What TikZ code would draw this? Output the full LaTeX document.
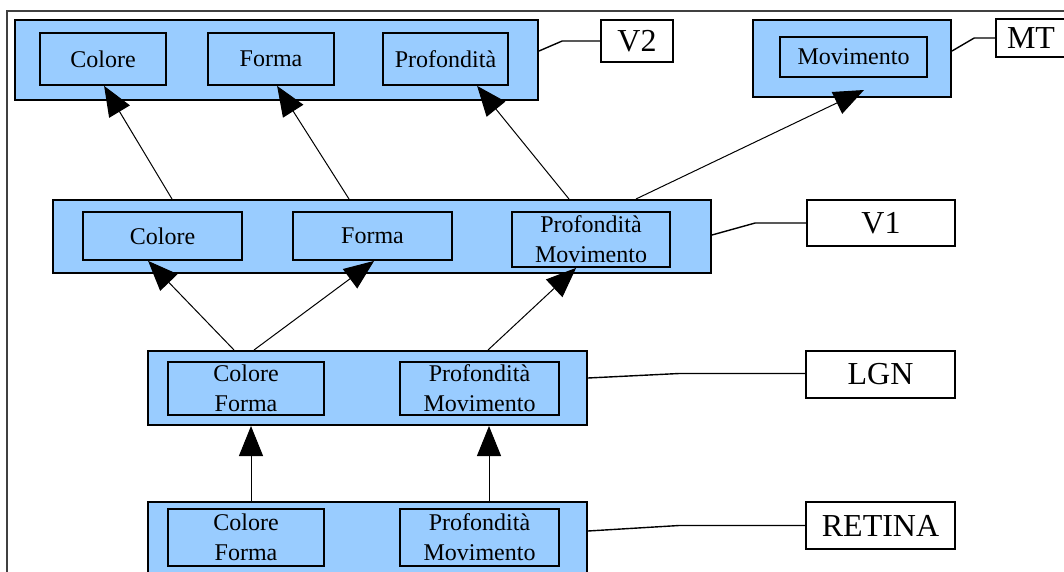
\documentclass[tikz,border=0pt]{standalone}
\usepackage{fontspec}
\setmainfont{Liberation Serif}
\usetikzlibrary{calc,arrows.meta}
\definecolor{boxblue}{HTML}{99CCFF}
\newcommand\boxat[6]{\node[#1, minimum width={(#4-#2)*0.5pt}, minimum height={(#5-#3)*0.5pt}] (#6) at ({(#2+#4)/2},{(#3+#5)/2})}
\begin{document}
\begin{tikzpicture}[x=0.5pt,y=-0.5pt,
  layer/.style={draw, line width=1pt, fill=boxblue, inner sep=0pt},
  area/.style={draw, line width=0.9pt, fill=boxblue, inner sep=0pt, align=center,
    font=\fontsize{12}{15}\selectfont},
  tag/.style={draw, line width=0.8pt, fill=white, inner sep=0pt,
    font=\fontsize{16}{18}\selectfont},
  arr/.style={line width=0.5pt, -{Triangle[length=15pt,width=12pt]}},
  link/.style={line width=0.7pt}]
\useasboundingbox (0,0) rectangle (1064,572);
\clip (0,0) rectangle (1064,572);
\fill[white] (0,0) rectangle (1064,572);
\draw[black!75, line width=0.6pt] (1064,11) -- (7,11) -- (7,572);

% V2
\boxat{layer}{15}{20}{538}{100}{v2} {};
\boxat{area}{40}{33}{166}{85}{v2c} {Colore};
\boxat{area}{208}{33}{334}{85}{v2f} {Forma};
\boxat{area}{383}{33}{508}{85}{v2p} {Profondità};
\boxat{tag}{601}{20}{673}{62}{v2tag} {V2};

% MT
\boxat{layer}{753}{20}{951}{97}{mt} {};
\boxat{area}{780}{37}{927}{77}{mtm} {Movimento};
\boxat{tag}{996}{19}{1066}{57}{mttag} {MT};

% V1
\boxat{layer}{53}{200}{711}{273}{v1} {};
\boxat{area}{83}{212}{242}{260}{v1c} {Colore};
\boxat{area}{293}{212}{452}{260}{v1f} {Forma};
\boxat{area}{512}{212}{670}{267}{v1p} {Profondità\\Movimento};
\boxat{tag}{807}{200}{955}{246}{v1tag} {V1};

% LGN
\boxat{layer}{148}{351}{587}{425}{lgn} {};
\boxat{area}{168}{362}{324}{415}{lgnc} {Colore\\Forma};
\boxat{area}{400}{362}{559}{415}{lgnp} {Profondità\\Movimento};
\boxat{tag}{806}{351}{955}{398}{lgntag} {LGN};

% RETINA
\boxat{layer}{148}{502}{587}{590}{ret} {};
\boxat{area}{168}{509}{324}{566}{retc} {Colore\\Forma};
\boxat{area}{400}{509}{559}{566}{retp} {Profondità\\Movimento};
\boxat{tag}{806}{502}{955}{549}{rettag} {RETINA};

% arrows
\draw[arr] ($(v1.north west)+(120,0)$) -- ($(v2c.south west)+(65,0)$);
\draw[arr] ($(v1.north west)+(297,0)$) -- ($(v2f.south west)+(70,0)$);
\draw[arr] ($(v1.north west)+(517,0)$) -- ($(v2p.south west)+(95,0)$);
\draw[arr] ($(v1.north west)+(584,0)$) -- ($(mt.south west)+(112,-8)$);
\draw[arr] ($(lgn.north west)+(87,0)$) -- ($(v1c.south west)+(66,0)$);
\draw[arr] ($(lgn.north west)+(107,0)$) -- ($(v1f.south west)+(82,0)$);
\draw[arr] ($(lgn.north west)+(341,0)$) -- ($(v1p.south west)+(65,0)$);
\draw[arr] ($(ret.north west)+(104,0)$) -- ($(lgn.south west)+(104,0)$);
\draw[arr] ($(ret.north west)+(342,0)$) -- ($(lgn.south west)+(342,0)$);

% links to tags
\draw[link] ($(v2.north east)+(0,32)$) -- ($(v2tag.west)+(-38,0)$) -- (v2tag.west);
\draw[link] ($(mt.north east)+(0,32)$) -- ($(mttag.west)+(-21,0)$) -- (mttag.west);
\draw[link] ($(v1.north east)+(0,36)$) -- ($(v1tag.west)+(-51,0)$) -- (v1tag.west);
\draw[link] ($(lgn.north east)+(0,28)$) -- ($(lgntag.west)+(-126,-1)$) -- ($(lgntag.west)+(0,-1)$);
\draw[link] ($(ret.north east)+(0,30)$) -- ($(rettag.west)+(-126,0)$) -- (rettag.west);
\end{tikzpicture}
\end{document}
